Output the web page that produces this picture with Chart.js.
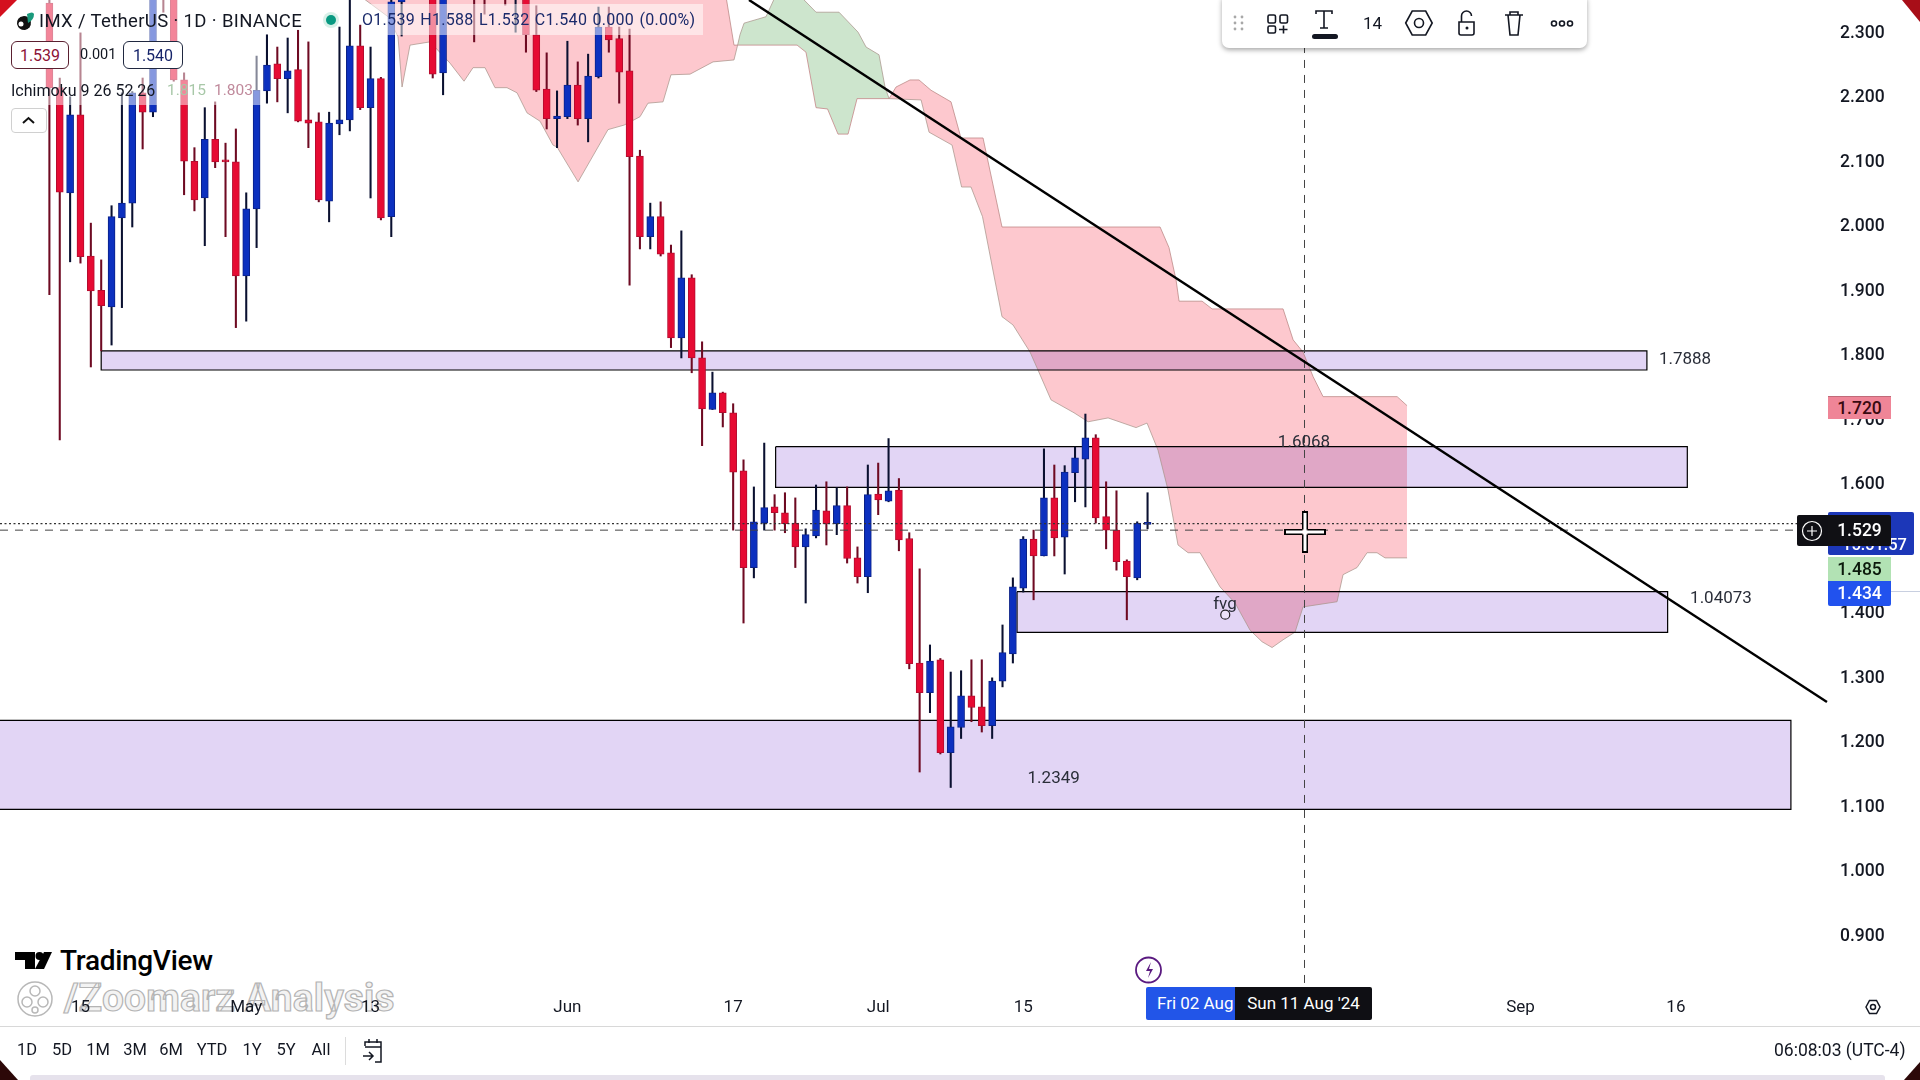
<!DOCTYPE html>
<html><head><meta charset="utf-8">
<script src="https://cdn.jsdelivr.net/npm/chart.js@4/dist/chart.umd.min.js"></script>
<style>
html,body{margin:0;padding:0;background:#fff;width:1920px;height:1080px;overflow:hidden;font-family:Roboto,sans-serif;color:#131722}
#wrap{position:absolute;left:0;top:0;width:1920px;height:1080px;overflow:hidden}
canvas{position:absolute;left:0;top:0;z-index:2}
.t{position:absolute;white-space:nowrap;z-index:6;line-height:1}
.b{position:absolute;z-index:5}
svg{position:absolute;z-index:7;overflow:visible}
.tag{position:absolute;z-index:6;text-align:center;font-size:17.5px;font-weight:500;box-sizing:border-box}
.tf{position:absolute;top:1042px;font-size:16.5px;transform:translateX(-50%);z-index:6;line-height:1}
</style></head><body><div id="wrap">
<div class="t" style="left:64px;top:979px;font-size:38.8px;font-weight:700;color:rgba(238,238,238,.7);-webkit-text-stroke:1.2px #b4b4b4;z-index:1;letter-spacing:.2px">/Zoomarz Analysis</div>
<svg style="left:0;top:0;z-index:1" width="60" height="1080"><g fill="none" stroke="#b8b8b8" stroke-width="1.5"><circle cx="35" cy="999" r="17"/><circle cx="35" cy="991" r="5"/><circle cx="27" cy="1002" r="5"/><circle cx="43" cy="1002" r="5"/><circle cx="35" cy="1010" r="3"/></g></svg>
<div class="t" style="left:60px;top:947px;font-size:28px;font-weight:500;z-index:1;letter-spacing:-.3px;color:#000">TradingView</div>
<svg style="left:0;top:0;z-index:1" width="60" height="1000"><path d="M15 952H35V969H25V960H15Z" fill="#000"/><circle cx="39.5" cy="956" r="4" fill="#000"/><path d="M44 952H52L44 969H35Z" fill="#000"/></svg>
<canvas id="c" width="1920" height="1080" style="width:1920px;height:1080px"></canvas>

<div class="b" style="left:0;top:0;width:262px;height:105px;background:rgba(255,255,255,.5)"></div>
<div class="b" style="left:362px;top:4px;width:341px;height:31px;background:rgba(255,255,255,.52)"></div>
<svg style="left:0;top:0" width="60" height="40"><path d="M17 24a7 7 0 1 1 8 6 8 8 0 0 1-8-6z" fill="#111"/><circle cx="21" cy="24" r="2.5" fill="#fff"/><path d="M27 14q6-3 7 0q0 6-6 9z" fill="#1a9a7c"/></svg>
<div class="t" style="left:39px;top:12px;font-size:18.5px;letter-spacing:.35px">IMX / TetherUS · 1D · BINANCE</div>
<svg style="left:0;top:0" width="345" height="40"><circle cx="331" cy="20" r="8" fill="#d8f0e8"/><circle cx="331" cy="20" r="5" fill="#089981"/></svg>
<div class="t" style="left:362px;top:12px;font-size:16px;color:#1a2a6a;letter-spacing:.3px;word-spacing:1px">O1.539 H1.588 L1.532 C1.540 0.000 (0.00%)</div>
<div class="t" style="left:11px;top:41px;width:58px;height:28px;border:1px solid #5a2030;border-radius:6px;background:#fff;color:#8c1236;font-size:16px;text-align:center;line-height:28px;box-sizing:border-box">1.539</div>
<div class="t" style="left:80px;top:48px;font-size:14.5px">0.001</div>
<div class="t" style="left:123px;top:41px;width:60px;height:28px;border:1px solid #202840;border-radius:6px;background:#fff;color:#16246a;font-size:16px;text-align:center;line-height:28px;box-sizing:border-box">1.540</div>
<div class="t" style="left:11px;top:83px;font-size:16px">Ichimoku 9 26 52 26</div>
<div class="t" style="left:167px;top:83px;font-size:15.5px;color:#a8c8a8">1.815</div>
<div class="t" style="left:214px;top:83px;font-size:15.5px;color:#c08a9c">1.803</div>
<div class="t" style="left:11px;top:108px;width:36px;height:25px;border:1px solid #d0d0d0;border-radius:4px;background:#fff;box-sizing:border-box"></div>
<svg style="left:0;top:0" width="50" height="140"><path d="M23 123l5.5-5 5.5 5" fill="none" stroke="#111" stroke-width="2"/></svg>

<div class="b" style="left:1222px;top:-6px;width:365px;height:54px;background:#fff;border-radius:7px;box-shadow:0 2px 5px rgba(0,0,0,.35);z-index:5"></div>
<svg style="left:0;top:0" width="1920" height="60"><g fill="#a8a8a8"><circle cx="1235" cy="17" r="1.4"/><circle cx="1242" cy="17" r="1.4"/><circle cx="1235" cy="23" r="1.4"/><circle cx="1242" cy="23" r="1.4"/><circle cx="1235" cy="29" r="1.4"/><circle cx="1242" cy="29" r="1.4"/></g>
<g fill="none" stroke="#131722" stroke-width="1.6"><rect x="1268" y="15" width="7.5" height="8" rx="1.5"/><rect x="1280" y="15" width="7.5" height="8" rx="1.5"/><rect x="1268" y="26" width="7.5" height="7" rx="1.5"/><path d="M1279 29.5h8.5M1283.5 25.5v8"/>
<path d="M1316 14v-3h16v3M1324 11v17M1320 28h8"/>
<path d="M1406 24l6.5-12h13.5l6.5 12-6.5 12h-13.5z" transform="translate(-.3,-1)"/><circle cx="1419" cy="23" r="4.5"/>
<path d="M1459 22h15v11a2 2 0 0 1-2 2h-11a2 2 0 0 1-2-2zM1461.500 22v-6a5 5 0 0 1 10 0"/>
<path d="M1505 15h18M1508 15l2 20h8l2-20M1510 15v-3h8v3"/>
<circle cx="1554" cy="23.500" r="2.500"/><circle cx="1562" cy="23.500" r="2.500"/><circle cx="1570" cy="23.500" r="2.500"/></g>
<rect x="1312" y="34" width="26" height="5" rx="2.5" fill="#131722"/><circle cx="1467" cy="28" r="1.500" fill="#131722"/></svg>
<div class="t" style="left:1363px;top:15px;font-size:17px">14</div>

<div class="tag" style="left:1828px;top:396px;width:63px;height:23px;background:#ef8597;border-top:1px solid #c06a78;line-height:23px;color:#3a0a10">1.720</div>
<div class="tag" style="left:1828px;top:512px;width:86px;height:43px;background:#1c37b8;border-radius:2px;color:#fff;line-height:66px;padding-left:14px;text-align:left;font-size:16.5px">15:51:57</div>
<div class="tag" style="left:1797px;top:515px;width:31px;height:31px;background:#0f0f14;border-radius:2px 0 0 2px"></div>
<svg style="left:0;top:0" width="1830" height="540"><circle cx="1812" cy="531" r="9.500" fill="none" stroke="#fff" stroke-width="1.200"/><path d="M1812 526v10M1807 531h10" stroke="#fff" stroke-width="1.200"/></svg>
<div class="tag" style="left:1828px;top:515px;width:63px;height:31px;background:#101014;border-radius:0 2px 2px 0;color:#fff;line-height:31px">1.529</div>
<div class="tag" style="left:1828px;top:557px;width:63px;height:24px;background:#b2e2b4;line-height:24px;color:#0c1a0c">1.485</div>
<div class="tag" style="left:1828px;top:581px;width:63px;height:25px;background:#2152ee;line-height:25px;color:#fff;border-radius:0 0 2px 2px">1.434</div>
<div class="b" style="left:1891px;top:591px;width:29px;height:1px;background:#c8cfe0"></div>

<svg style="left:0;top:0" width="1920" height="1080"><path d="M1305 511v18.500M1305 534.500v18.500M1284 532h18.500M1307.500 532h18.500" stroke="#000" stroke-width="6"/><path d="M1305 513v38M1286 532h38" stroke="#fff" stroke-width="3" fill="none"/>
<circle cx="1148.500" cy="970" r="12.500" fill="#fff" stroke="#5a1a80" stroke-width="1.800"/><path d="M1151 962l-5 9h4l-2 7 5-9h-4z" fill="#5a1a80"/>
<path d="M1866 1007l3.500-6.500h7l3.500 6.500-3.500 6.500h-7z" fill="none" stroke="#131722" stroke-width="1.500"/><circle cx="1873" cy="1007" r="2.500" fill="none" stroke="#131722" stroke-width="1.500"/>
<path d="M365 1046v-4h16v20h-6M365 1047h16M369 1039v4M377 1039v4M363 1056h9M369 1052l4 4-4 4" fill="none" stroke="#131722" stroke-width="1.500"/></svg>

<div class="tag" style="left:1146px;top:987px;width:89px;height:33px;background:#2255e8;color:#fff;font-size:17px;font-weight:400;line-height:33px;text-align:left;padding-left:11px;overflow:hidden;white-space:nowrap;border-radius:2px 0 0 2px">Fri 02 Aug</div>
<div class="tag" style="left:1235px;top:987px;width:137px;height:33px;background:#0f0f14;color:#fff;font-size:17px;font-weight:400;line-height:33px;border-radius:0 2px 2px 0">Sun 11 Aug '24</div>

<div class="b" style="left:0;top:1026px;width:1920px;height:1px;background:#d8d8d8"></div>
<div class="tf" style="left:27px">1D</div><div class="tf" style="left:62px">5D</div><div class="tf" style="left:98px">1M</div><div class="tf" style="left:135px">3M</div><div class="tf" style="left:171px">6M</div><div class="tf" style="left:212px">YTD</div><div class="tf" style="left:252px">1Y</div><div class="tf" style="left:286px">5Y</div><div class="tf" style="left:321px">All</div>
<div class="b" style="left:345px;top:1037px;width:1px;height:28px;background:#dcdcdc"></div>
<div class="t" style="left:1774px;top:1042px;font-size:17.5px">06:08:03 (UTC-4)</div>
<div class="b" style="left:30px;top:1075px;width:1855px;height:5px;background:#e6e2ec;border-radius:3px 3px 0 0"></div>
<svg style="left:0;top:0;z-index:8" width="1920" height="1080"><path d="M0 0H17L0 17Z" fill="#d4101e"/><path d="M1902 0H1920V22Z" fill="#a80e18"/><path d="M0 1060L18 1080H0Z" fill="#2c0808"/><path d="M1920 1062L1904 1080H1920Z" fill="#2c0808"/></svg>
</div>
<script>
const opens=[2.347,2.216,2.053,2.174,1.955,1.902,1.876,2.014,2.037,2.208,2.178,2.430,2.368,2.228,2.102,2.045,2.136,2.102,2.101,1.924,2.028,2.211,2.253,2.230,2.244,2.166,2.163,2.040,2.160,2.166,2.281,2.185,2.230,2.016,2.349,2.440,2.420,2.445,2.239,2.420,2.460,2.445,2.445,2.390,2.414,2.368,2.364,2.298,2.214,2.168,2.171,2.220,2.168,2.233,2.310,2.292,2.242,2.110,1.985,2.016,1.960,1.828,1.921,1.797,1.717,1.743,1.712,1.622,1.472,1.541,1.566,1.557,1.541,1.504,1.521,1.560,1.540,1.568,1.487,1.458,1.586,1.575,1.592,1.517,1.324,1.278,1.329,1.185,1.224,1.273,1.256,1.227,1.296,1.338,1.440,1.516,1.490,1.580,1.519,1.619,1.640,1.673,1.551,1.530,1.482,1.456,1.539];
const closes=[2.216,2.054,2.174,1.954,1.901,1.878,2.016,2.037,2.208,2.178,2.414,2.368,2.228,2.102,2.042,2.136,2.101,2.101,1.924,2.028,2.212,2.251,2.230,2.242,2.164,2.161,2.042,2.161,2.166,2.281,2.185,2.230,2.014,2.349,2.383,2.400,2.460,2.237,2.430,2.460,2.420,2.384,2.380,2.430,2.383,2.414,2.298,2.212,2.168,2.172,2.220,2.168,2.234,2.310,2.290,2.240,2.109,1.985,2.016,1.958,1.828,1.921,1.797,1.718,1.743,1.712,1.620,1.472,1.543,1.565,1.557,1.540,1.504,1.523,1.561,1.540,1.568,1.486,1.458,1.585,1.577,1.591,1.515,1.323,1.278,1.327,1.185,1.225,1.273,1.255,1.227,1.296,1.340,1.442,1.516,1.490,1.580,1.518,1.620,1.642,1.673,1.549,1.530,1.481,1.458,1.541,1.540];
const highs=[2.360,2.231,2.202,2.301,2.006,1.949,2.033,2.208,2.210,2.231,2.445,2.461,2.383,2.239,2.123,2.185,2.194,2.130,2.152,2.053,2.265,2.298,2.279,2.293,2.305,2.287,2.177,2.178,2.310,2.368,2.313,2.279,2.232,2.383,2.414,2.470,2.480,2.476,2.445,2.480,2.490,2.470,2.460,2.460,2.430,2.430,2.383,2.343,2.270,2.211,2.288,2.256,2.268,2.341,2.341,2.310,2.307,2.119,2.037,2.039,1.972,1.994,1.926,1.822,1.775,1.744,1.726,1.639,1.597,1.665,1.585,1.588,1.580,1.532,1.600,1.605,1.596,1.597,1.504,1.631,1.634,1.672,1.610,1.526,1.470,1.352,1.331,1.310,1.312,1.329,1.329,1.301,1.383,1.456,1.520,1.530,1.656,1.631,1.630,1.659,1.710,1.678,1.605,1.591,1.484,1.543,1.588];
const lows=[1.895,1.670,1.946,1.944,1.783,1.808,1.817,1.875,2.000,2.121,2.171,2.333,2.226,2.050,2.025,1.971,2.092,1.985,1.844,1.854,1.968,2.192,2.194,2.177,2.163,2.123,2.039,2.008,2.143,2.149,2.182,2.045,2.011,1.985,2.296,2.380,2.400,2.231,2.205,2.390,2.400,2.287,2.330,2.370,2.344,2.302,2.271,2.210,2.152,2.123,2.168,2.158,2.132,2.231,2.271,2.192,1.910,1.966,1.966,1.955,1.813,1.797,1.774,1.661,1.717,1.690,1.530,1.386,1.456,1.530,1.530,1.526,1.472,1.417,1.518,1.507,1.523,1.479,1.448,1.433,1.554,1.574,1.498,1.315,1.155,1.247,1.183,1.131,1.207,1.233,1.217,1.207,1.287,1.324,1.434,1.422,1.490,1.490,1.462,1.574,1.566,1.541,1.501,1.468,1.391,1.453,1.532];

const spanADays=[29.50,32.69,33.65,34.04,34.81,36.74,38.67,40.02,40.89,42.05,43.01,44.17,45.14,46.10,47.36,48.61,49.00,51.03,53.92,55.47,57.01,57.78,59.23,60.00,61.84,64.06,66.08,66.43,66.66,67.05,69.17,70.14,72.36,74.00,76.22,78.06,78.83,80.08,80.66,81.05,84.14,84.91,87.13,88.05,88.96,90.07,91.95,93.02,94.66,95.43,96.68,98.90,100.26,102.19,104.89,105.95,107.01,107.98,108.94,109.91,111.07,113.00,114.45,115.89,117.05,118.02,119.08,120.24,121.01,124.29,124.87,126.22,127.19,128.15,128.92,131.05];
const spanA=[2.364,2.326,2.295,2.217,2.282,2.287,2.254,2.226,2.247,2.247,2.216,2.216,2.208,2.177,2.164,2.127,2.124,2.070,2.151,2.158,2.171,2.192,2.194,2.236,2.237,2.256,2.259,2.282,2.298,2.316,2.326,2.360,2.360,2.333,2.333,2.302,2.279,2.267,2.217,2.199,2.197,2.147,2.127,2.062,2.062,2.016,1.861,1.848,1.806,1.778,1.732,1.712,1.698,1.704,1.689,1.696,1.654,1.592,1.507,1.495,1.495,1.442,1.417,1.375,1.357,1.348,1.360,1.372,1.411,1.419,1.461,1.472,1.495,1.495,1.487,1.487];
const spanBDays=[29.50,29.98,64.73,66.08,66.43,72.17,73.03,74.00,75.11,76.12,77.09,77.96,81.05,81.72,83.07,83.94,85.10,87.03,87.99,90.12,91.95,107.21,108.07,108.75,109.04,111.26,112.23,119.08,120.05,121.01,121.98,122.94,130.09,131.05];
const spanB=[2.364,2.414,2.414,2.282,2.282,2.282,2.271,2.185,2.183,2.144,2.144,2.199,2.199,2.217,2.228,2.228,2.212,2.194,2.138,2.138,2.000,2.000,1.968,1.918,1.885,1.885,1.873,1.873,1.825,1.806,1.768,1.737,1.737,1.723];

const zoneStart=[5.0,70.1,93.4,-10];
const zoneEnd=[154.2,158.1,156.2,168.1];
const zoneTop=[1.8078,1.6594,1.4346,1.2352];
const zoneBottom=[1.7783,1.5964,1.3716,1.0972];

const trendDays=[67.53,171.58];
const trendPrices=[2.352,1.2636];
const lastPrice=1.540, crossPrice=1.530, crossDay=121.15;
const circleDay=113.5, circlePrice=1.399;

const noteTexts=['1.7888','1.6068','1.04073','1.2349','fvg'];
const noteDays=[157.88,121.1,161.35,96.94,113.47];
const notePrices=[1.794,1.666,1.424,1.145,1.414];

const tickDays=[3,19,31,50,66,80,94,111,142,157];
const tickLabels=['15','May','13','Jun','17','Jul','15','Aug','Sep','16'];
const priceTicks=[0.9,1.0,1.1,1.2,1.3,1.4,1.5,1.6,1.7,1.8,1.9,2.0,2.1,2.2,2.3];

const RED='#e60b33',REDEDGE='#b50c2e',REDWICK='#6e0a22',BLUE='#0c30bf',BLUEEDGE='#0a2188',BLUEWICK='#0a1030';
const up=i=>closes[i]>=opens[i];
const idx=opens.map((_,i)=>i);
const pairs=(xs,ys)=>xs.map((x,i)=>({x,y:ys[i]}));
const base={type:'line',pointRadius:0,pointHoverRadius:0,tension:0};
const zones=zoneStart.map((s,k)=>({...base,order:6,
  data:[{x:s,y:zoneTop[k]},{x:zoneEnd[k],y:zoneTop[k]},{x:zoneEnd[k],y:zoneBottom[k]},{x:s,y:zoneBottom[k]},{x:s,y:zoneTop[k]}],
  borderColor:'#000',borderWidth:1.2,backgroundColor:'#e2d5f5',fill:'shape'}));

const notes={id:'notes',
  beforeRender(ch){ch.ctx.globalCompositeOperation='multiply';},
  beforeDatasetsDraw(ch){ch.ctx.globalCompositeOperation='source-over';},
  afterDatasetsDraw(ch){const c=ch.ctx,x=ch.scales.x,y=ch.scales.y;c.save();c.font='400 17px Roboto';c.fillStyle='#2a2e39';c.textAlign='center';c.textBaseline='middle';
  noteTexts.forEach((t,i)=>c.fillText(t,x.getPixelForValue(noteDays[i]),y.getPixelForValue(notePrices[i])));c.restore();}};
const noPad=s=>{s.paddingTop=0;s.paddingBottom=0;s.paddingLeft=0;s.paddingRight=0;};

new Chart(document.getElementById('c'),{type:'bar',plugins:[notes],data:{datasets:[
  {...base,order:8,data:pairs(spanADays,spanA),borderColor:'rgba(170,150,140,.75)',borderWidth:1,
    fill:{target:'+1',above:'#cde5cd',below:'#fdc8ce'}},
  {...base,order:8,data:pairs(spanBDays,spanB),borderColor:'rgba(190,130,130,.75)',borderWidth:1,fill:false},
  ...zones,
  {type:'bar',order:3,grouped:false,barThickness:1.4,data:idx.map(i=>({x:i,y:[lows[i],highs[i]]})),
    backgroundColor:idx.map(i=>up(i)?BLUEWICK:REDWICK)},
  {type:'bar',order:2,grouped:false,barThickness:7,minBarLength:2,borderWidth:1,borderSkipped:false,data:idx.map(i=>({x:i,y:[opens[i],closes[i]]})),
    backgroundColor:idx.map(i=>up(i)?BLUE:RED),borderColor:idx.map(i=>up(i)?BLUEEDGE:REDEDGE)},
  {...base,order:1,data:pairs([-4.768,171.68],[lastPrice,lastPrice]),borderColor:'#333',borderWidth:1.2,borderDash:[2,2.5],fill:false},
  {...base,order:1,data:pairs([-4.768,171.68],[crossPrice,crossPrice]),borderColor:'#444',borderWidth:1,borderDash:[8,7],fill:false},
  {...base,order:1,data:pairs([crossDay,crossDay],[2.352,0.825]),borderColor:'#444',borderWidth:1,borderDash:[8,7],fill:false},
  {...base,order:0,data:pairs(trendDays,trendPrices),borderColor:'#000',borderWidth:2.4,fill:false},
  {...base,order:0,data:[{x:circleDay,y:circlePrice}],pointRadius:4.5,pointBorderColor:'#222',pointBorderWidth:1.2,pointBackgroundColor:'rgba(255,255,255,.35)',showLine:false}
]},options:{responsive:false,animation:false,devicePixelRatio:1,
  layout:{autoPadding:false,padding:{left:0,top:0,right:0,bottom:54}},
  plugins:{legend:{display:false},tooltip:{enabled:false},title:{display:false},filler:{drawTime:'beforeDatasetsDraw'}},
  events:[],
  scales:{
    x:{type:'linear',min:-4.768,max:171.68,offset:false,grid:{display:false},border:{display:false},
      afterBuildTicks(s){s.ticks=tickDays.map(v=>({value:v}));},
      afterFit(s){s.height=41;noPad(s);},
      ticks:{autoSkip:false,maxRotation:0,minRotation:0,padding:5,color:'#131722',font:{family:'Roboto',size:17},
        callback:v=>tickLabels[tickDays.indexOf(v)]}},
    y:{type:'linear',position:'right',min:0.8248,max:2.35194,grid:{display:false},border:{display:false},
      afterBuildTicks(s){s.ticks=priceTicks.map(v=>({value:v}));},
      afterFit(s){s.width=92;noPad(s);},
      ticks:{padding:4,color:'#131722',font:{family:'Roboto',size:17.5,weight:'500'},callback:v=>v.toFixed(3)}}
  }}});
</script></body></html>
